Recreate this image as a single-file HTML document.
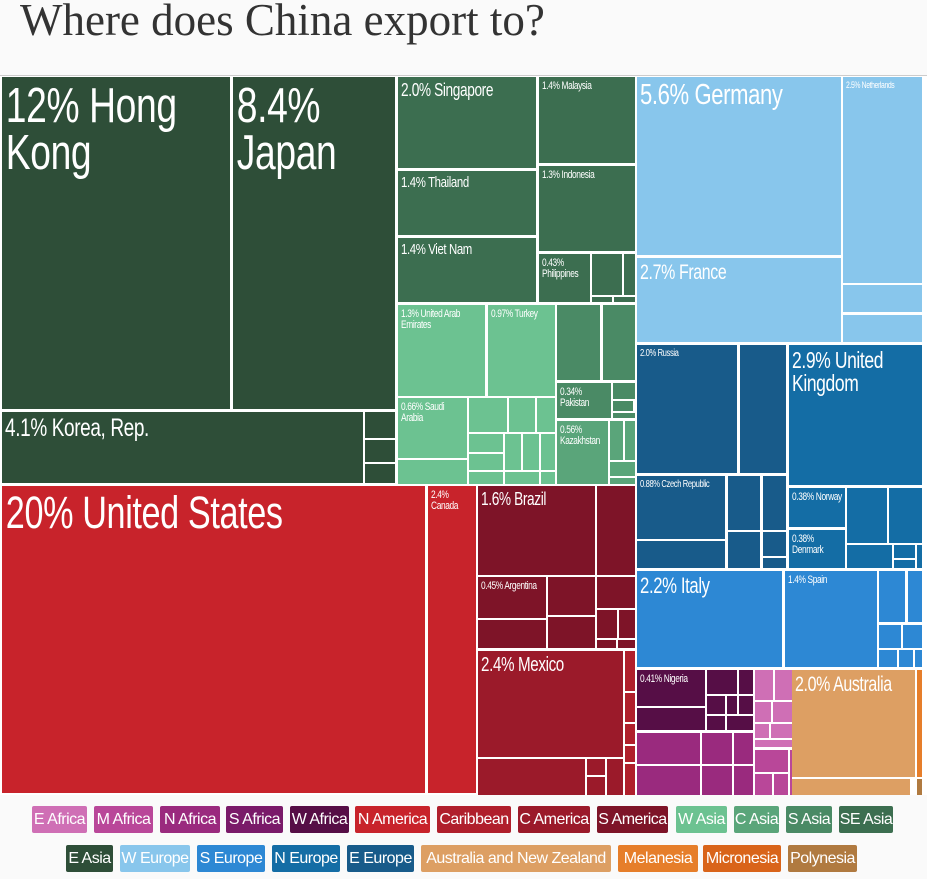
<!DOCTYPE html>
<html><head><meta charset="utf-8"><style>
body{margin:0;width:927px;height:879px;background:#fafafa;position:relative;overflow:hidden;font-family:"Liberation Sans Narrow","Liberation Sans",sans-serif;}
.t{position:absolute;left:20px;top:-6px;font-family:"Liberation Serif",serif;font-size:45px;color:#333;}
.c{position:absolute;left:0;top:75px;width:927px;height:720px;background:#fff;border-top:1px solid #ccc;box-sizing:border-box}
.r{position:absolute;color:#fff;overflow:hidden;line-height:1;letter-spacing:-0.5px}
.r span{display:block;box-sizing:border-box;padding:4px 4px;transform:scaleX(0.76);transform-origin:0 0}
.l{position:absolute;height:27px;line-height:27px;color:#fff;font-size:16px;text-align:center;border-radius:2px;letter-spacing:-0.5px;white-space:nowrap}
.ea{background:#2e4e38}.se{background:#3c6e50}.wa{background:#6cc291}.sa{background:#4a8a65}.ca{background:#5aa57a}
.we{background:#88c6ec}.ee{background:#185b8a}.ne{background:#146da5}.sE{background:#2d88d4}
.na{background:#c8232b}.sam{background:#7e1428}.cam{background:#9b1a2a}.cb{background:#b01f2c}
.wf{background:#560e46}.ef{background:#cf6fb5}.mf{background:#b94799}.nf{background:#9a2a7e}.sf{background:#7a1a69}
.au{background:#dd9f63}.me{background:#e67e2a}.mi{background:#d9641a}.po{background:#b07a40}
</style></head><body>
<div class="t">Where does China export to?</div>
<div class="c"></div>
<div id="m"></div>
<script>
const R=[
['ea',2,77,230,409,'12% Hong Kong',49],['ea',233,77,395,409,'8.4% Japan',49],['ea',2,412,363,483,'4.1% Korea, Rep.',25],
['ea',365,412,395,438],['ea',365,440,395,462],['ea',365,464,395,483],
['se',398,77,536,168,'2.0% Singapore',18],['se',398,171,536,235,'1.4% Thailand',15],['se',398,238,536,302,'1.4% Viet Nam',15],
['se',539,77,635,163,'1.4% Malaysia',11],['se',539,166,635,251,'1.3% Indonesia',11],['se',539,254,590,302,'0.43% Philippines',11],
['se',592,254,622,295],['se',624,254,635,295],['se',592,297,612,302],['se',614,297,635,302],
['wa',398,305,485,396,'1.3% United Arab Emirates',11],['wa',488,305,555,396,'0.97% Turkey',11],['wa',398,398,467,458,'0.66% Saudi Arabia',11],['wa',398,460,467,484],
['wa',469,398,507,432],['wa',509,398,535,432],['wa',537,398,555,432],['wa',469,434,503,452],['wa',469,454,503,470],['wa',469,472,503,484],
['wa',505,434,521,470],['wa',523,434,539,470],['wa',541,434,555,470],['wa',505,472,539,484],['wa',541,472,555,484],
['sa',557,305,600,380],['sa',603,305,635,380],['sa',557,383,611,418,'0.34% Pakistan',11],['sa',613,383,635,399],['sa',613,401,633,411],['sa',613,413,635,418],
['ca',557,421,608,484,'0.56% Kazakhstan',11],['ca',610,421,623,460],['ca',625,421,635,460],['ca',610,462,635,476],['ca',610,478,635,484],
['we',637,77,841,255,'5.6% Germany',29],['we',637,258,841,342,'2.7% France',21],['we',843,77,922,283,'2.5% Netherlands',9],['we',843,285,922,312],['we',843,315,922,342],
['ee',637,345,737,473,'2.0% Russia',10],['ee',740,345,786,473],['ee',637,476,725,539,'0.88% Czech Republic',10],['ee',637,541,725,568],
['ee',728,476,760,530],['ee',763,476,786,530],['ee',728,532,760,568],['ee',763,532,786,556],['ee',763,558,786,568],
['ne',789,345,922,485,'2.9% United Kingdom',23],['ne',789,488,845,527,'0.38% Norway',11],['ne',789,530,845,568,'0.38% Denmark',11],
['ne',847,488,887,543],['ne',889,488,922,543],['ne',847,545,892,568],['ne',894,545,915,558],['ne',894,560,915,568],['ne',917,545,922,568],
['sE',637,571,782,667,'2.2% Italy',22],['sE',785,571,877,667,'1.4% Spain',11],['sE',879,571,905,622],['sE',908,571,922,622],['sE',879,625,901,648],['sE',903,625,922,648],['sE',879,650,897,667],['sE',899,650,913,667],['sE',915,650,922,667],
['wf',637,670,705,706,'0.41% Nigeria',11],['wf',637,708,705,730],['wf',707,670,737,694],['wf',739,670,753,694],['wf',707,696,725,714],['wf',727,696,737,714],['wf',739,696,753,714],['wf',707,716,725,730],['wf',727,716,753,730],
['nf',637,733,700,764],['nf',637,766,700,795],['nf',702,733,732,764],['nf',702,766,732,795],['nf',734,733,753,764],['nf',734,766,753,795],
['ef',755,670,773,700],['ef',775,670,792,700],['ef',755,702,771,722],['ef',773,702,792,722],['ef',755,724,769,738],['ef',771,724,792,738],['ef',755,740,792,747],
['mf',755,750,788,772],['mf',755,774,772,795],['mf',774,774,788,795],['mf',790,750,792,795],
['au',792,670,915,777,'2.0% Australia',21],['au',792,779,910,795],['me',917,670,922,777],['po',917,779,922,795],
['na',2,486,425,793,'20% United States',45],['na',428,486,476,793,'2.4% Canada',11],
['sam',478,486,595,575,'1.6% Brazil',18],['sam',597,486,635,575],['sam',478,577,546,618,'0.45% Argentina',11],['sam',478,620,546,648],
['sam',548,577,595,615],['sam',548,617,595,648],['sam',597,577,635,608],['sam',597,610,617,638],['sam',619,610,635,638],['sam',597,640,616,648],['sam',618,640,635,648],
['cam',478,651,623,757,'2.4% Mexico',20],['cam',478,759,585,795],['cam',587,759,605,775],['cam',587,777,605,795],['cam',607,759,623,795],
['cb',625,651,635,691],['cb',625,693,635,722],['cb',625,724,635,744],['cb',625,746,635,762],['cb',625,764,635,795]
];
let h='';
for(const r of R){const [c,x1,y1,x2,y2,t,f]=r;if(x2<=x1)continue;const w=x2-x1;
h+=`<div class="r ${c}" style="left:${x1}px;top:${y1}px;width:${w}px;height:${y2-y1}px">${t?`<span style="width:${(w/0.76).toFixed(1)}px;font-size:${f}px;${f>30?'line-height:0.95;padding:6px 5px':''}">${t}</span>`:''}</div>`;}
document.getElementById('m').innerHTML=h;
</script>
<div class="l ef" style="left:32px;top:806px;width:55px">E Africa</div>
<div class="l mf" style="left:94px;top:806px;width:59px">M Africa</div>
<div class="l nf" style="left:160px;top:806px;width:60px">N Africa</div>
<div class="l sf" style="left:226px;top:806px;width:57px">S Africa</div>
<div class="l wf" style="left:290px;top:806px;width:59px">W Africa</div>
<div class="l na" style="left:355px;top:806px;width:75px">N America</div>
<div class="l cb" style="left:437px;top:806px;width:74px">Caribbean</div>
<div class="l cam" style="left:518px;top:806px;width:72px">C America</div>
<div class="l sam" style="left:597px;top:806px;width:71px">S America</div>
<div class="l wa" style="left:676px;top:806px;width:51px">W Asia</div>
<div class="l ca" style="left:734px;top:806px;width:45px">C Asia</div>
<div class="l sa" style="left:786px;top:806px;width:46px">S Asia</div>
<div class="l se" style="left:839px;top:806px;width:54px">SE Asia</div>
<div class="l ea" style="left:66px;top:845px;width:47px">E Asia</div>
<div class="l we" style="left:120px;top:845px;width:70px">W Europe</div>
<div class="l sE" style="left:197px;top:845px;width:68px">S Europe</div>
<div class="l ne" style="left:272px;top:845px;width:68px">N Europe</div>
<div class="l ee" style="left:347px;top:845px;width:67px">E Europe</div>
<div class="l au" style="left:421px;top:845px;width:190px">Australia and New Zealand</div>
<div class="l me" style="left:618px;top:845px;width:80px">Melanesia</div>
<div class="l mi" style="left:703px;top:845px;width:78px">Micronesia</div>
<div class="l po" style="left:788px;top:845px;width:69px">Polynesia</div>
</body></html>
